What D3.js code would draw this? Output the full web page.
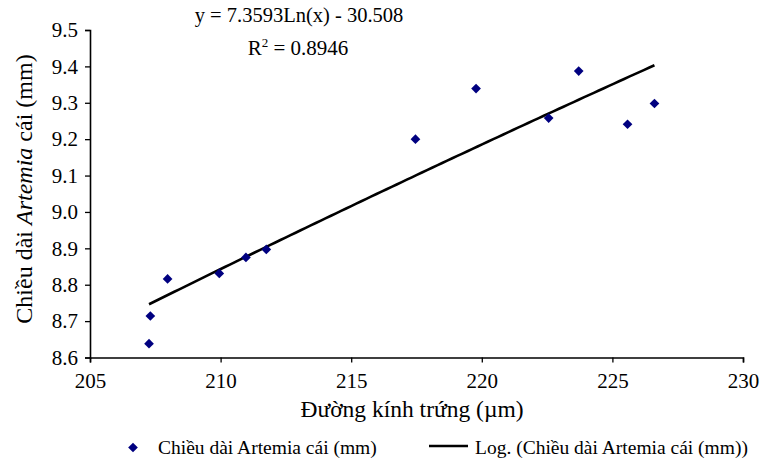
<!DOCTYPE html>
<html>
<head>
<meta charset="utf-8">
<script src="https://cdn.jsdelivr.net/npm/d3@7"></script>
<style>
  body { margin: 0; background: #fff; }
  svg text { font-family: "Liberation Serif", "Times New Roman", serif; fill: #000; }
</style>
</head>
<body>
<svg id="chart"></svg>
<script>
// egg diameter (µm) vs female Artemia length (mm)
const eggDiameter = [207.26, 207.31, 207.97, 209.95, 210.97, 211.75, 217.46, 219.78, 222.56, 223.71, 225.58, 226.61];
const femaleLength = [8.638, 8.714, 8.816, 8.831, 8.875, 8.897, 9.200, 9.339, 9.258, 9.387, 9.241, 9.298];
const xTicks = [205, 210, 215, 220, 225, 230];
const yTicks = [8.6, 8.7, 8.8, 8.9, 9.0, 9.1, 9.2, 9.3, 9.4, 9.5];
// logarithmic trend line as printed on the chart
const trendA = 7.3593;
const trendB = -30.508;
const trendR2 = 0.8946;

const width = 763, height = 459;
const margin = { top: 30, right: 20, bottom: 101, left: 90 };

const svg = d3.select("#chart")
    .attr("width", width)
    .attr("height", height);

const x = d3.scaleLinear().domain([205, 230]).range([margin.left, 743]);
const y = d3.scaleLinear().domain([8.6, 9.5]).range([357.5, margin.top]);

// axes
let xAxis = svg.append("g")
    .attr("transform", `translate(0, ${y(8.6)})`)
    .call(d3.axisBottom(x).tickValues(xTicks).tickSize(5).tickPadding(11).tickFormat(d3.format("d")));
let yAxis = svg.append("g")
    .attr("transform", `translate(${x(205)}, 0)`)
    .call(d3.axisLeft(y).tickValues(yTicks).tickSize(5).tickPadding(7).tickFormat(d3.format(".1f")));

[xAxis, yAxis].forEach(a => {
    a.selectAll("path").attr("stroke", "#000").attr("stroke-width", 1.6);
    a.selectAll("line").attr("stroke", "#000").attr("stroke-width", 1.3);
    a.selectAll("text").style("font-size", "21px").style("font-family", "Liberation Serif");
});

// trend curve
let trend = d3.range(0, 101).map(i => {
    let xv = d3.min(eggDiameter) + (d3.max(eggDiameter) - d3.min(eggDiameter)) * i / 100;
    return [xv, trendA * Math.log(xv) + trendB];
});
svg.append("path")
    .datum(trend)
    .attr("fill", "none")
    .attr("stroke", "#000")
    .attr("stroke-width", 2.6)
    .attr("d", d3.line().x(d => x(d[0])).y(d => y(d[1])));

// points
const diamond = d3.symbol().type(d3.symbolDiamond2).size(60);
svg.selectAll("path.pt")
    .data(eggDiameter.map((d, i) => [d, femaleLength[i]]))
    .enter().append("path")
        .attr("class", "pt")
        .attr("d", diamond)
        .attr("fill", "#000080")
        .attr("transform", d => `translate(${x(d[0])}, ${y(d[1])})`);

// equation labels
svg.append("text")
    .attr("x", 299).attr("y", 22)
    .attr("text-anchor", "middle")
    .style("font-size", "20.5px")
    .text(`y = ${trendA}Ln(x) - ${Math.abs(trendB)}`);
let r2 = svg.append("text")
    .attr("x", 298).attr("y", 55)
    .attr("text-anchor", "middle")
    .style("font-size", "21px");
r2.append("tspan").text("R");
r2.append("tspan").attr("dy", -8).style("font-size", "13px").text("2");
r2.append("tspan").attr("dy", 8).text(` = ${trendR2}`);

// axis titles
svg.append("text")
    .attr("x", 412).attr("y", 417)
    .attr("text-anchor", "middle")
    .style("font-size", "23.5px")
    .text("Đường kính trứng (µm)");
let yTitle = svg.append("text")
    .attr("transform", "translate(32, 189) rotate(-90)")
    .attr("text-anchor", "middle")
    .style("font-size", "24px");
yTitle.append("tspan").text("Chiều dài ");
yTitle.append("tspan").style("font-style", "italic").text("Artemia");
yTitle.append("tspan").text("  cái (mm)");

// legend
let legend = svg.append("g").style("font-size", "19.5px");
legend.append("path")
    .attr("d", diamond)
    .attr("fill", "#000080")
    .attr("transform", "translate(133, 447.5)");
legend.append("text").attr("x", 158).attr("y", 454).text("Chiều dài Artemia cái (mm)");
legend.append("line")
    .attr("x1", 429).attr("x2", 468).attr("y1", 446).attr("y2", 446)
    .attr("stroke", "#000").attr("stroke-width", 2.6);
legend.append("text").attr("x", 475).attr("y", 454).text("Log. (Chiều dài Artemia cái (mm))");
</script>
</body>
</html>
